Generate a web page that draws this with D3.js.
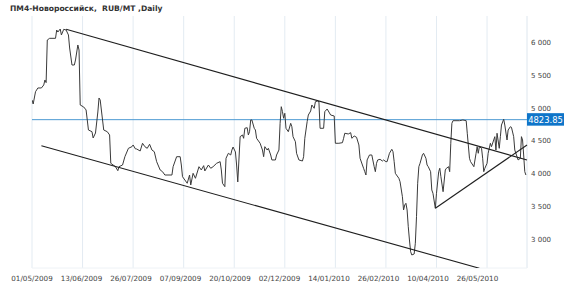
<!DOCTYPE html>
<html>
<head>
<meta charset="utf-8">
<script src="https://cdn.jsdelivr.net/npm/d3@7/dist/d3.min.js"></script>
<style>
  html, body { margin: 0; padding: 0; background: #fff; }
  svg { display: block; }
  text { font-family: "DejaVu Sans", Verdana, sans-serif; }
</style>
</head>
<body>
<svg id="chart" width="570" height="287"></svg>
<script>
// ===== data =====
const TITLE = 'ПМ4-Новороссийск,  RUB/MT ,Daily';

// axis ticks
const xTickDates = ['2009-05-01','2009-06-13','2009-07-26','2009-09-07','2009-10-20',
                    '2009-12-02','2010-01-14','2010-02-26','2010-04-10','2010-05-26'];
const xEndDate = '2010-07-01';
const yTicks = [3000, 3500, 4000, 4500, 5000, 5500, 6000];

// price series
const dates = [
  '2009-05-01','2009-05-02','2009-05-04','2009-05-06','2009-05-09','2009-05-11','2009-05-12','2009-05-13','2009-05-14','2009-05-16',
  '2009-05-21','2009-05-22','2009-05-23','2009-05-25','2009-05-26','2009-05-28','2009-05-30','2009-06-01','2009-06-02','2009-06-04',
  '2009-06-06','2009-06-07','2009-06-09','2009-06-10','2009-06-11','2009-06-14','2009-06-16','2009-06-18','2009-06-21','2009-06-22',
  '2009-06-24','2009-06-26','2009-06-27','2009-06-28','2009-07-01','2009-07-04','2009-07-06','2009-07-07','2009-07-09','2009-07-11',
  '2009-07-13','2009-07-14','2009-07-17','2009-07-19','2009-07-22','2009-07-25','2009-07-26','2009-07-28','2009-07-29','2009-08-01',
  '2009-08-03','2009-08-05','2009-08-07','2009-08-09','2009-08-11','2009-08-13','2009-08-15','2009-08-18','2009-08-20','2009-08-22',
  '2009-08-28','2009-08-29','2009-09-01','2009-09-04','2009-09-05','2009-09-06','2009-09-08','2009-09-10','2009-09-12','2009-09-13',
  '2009-09-15','2009-09-17','2009-09-20','2009-09-22','2009-09-24','2009-09-25','2009-09-28','2009-09-30','2009-10-02','2009-10-05',
  '2009-10-08','2009-10-09','2009-10-10','2009-10-12','2009-10-13','2009-10-15','2009-10-17','2009-10-18','2009-10-19','2009-10-21',
  '2009-10-22','2009-10-23','2009-10-25','2009-10-27','2009-10-28','2009-10-29','2009-10-31','2009-11-01','2009-11-02','2009-11-03',
  '2009-11-04','2009-11-06','2009-11-07','2009-11-08','2009-11-11','2009-11-13','2009-11-14','2009-11-15','2009-11-17','2009-11-18',
  '2009-11-20','2009-11-21','2009-11-24','2009-11-25','2009-11-27','2009-11-28','2009-11-29','2009-11-30','2009-12-01','2009-12-02',
  '2009-12-03','2009-12-05','2009-12-07','2009-12-08','2009-12-09','2009-12-11','2009-12-12','2009-12-14','2009-12-17','2009-12-18',
  '2009-12-19','2009-12-21','2009-12-22','2009-12-24','2009-12-25','2009-12-27','2009-12-28','2009-12-30','2009-12-31','2010-01-01',
  '2010-01-04','2010-01-05','2010-01-07','2010-01-08','2010-01-10','2010-01-13','2010-01-14','2010-01-17','2010-01-20','2010-01-21',
  '2010-01-22','2010-01-25','2010-01-27','2010-01-28','2010-01-30','2010-02-01','2010-02-03','2010-02-04','2010-02-06','2010-02-07',
  '2010-02-08','2010-02-09','2010-02-10','2010-02-12','2010-02-14','2010-02-16','2010-02-17','2010-02-18','2010-02-19','2010-02-21',
  '2010-02-23','2010-02-24','2010-02-26','2010-02-27','2010-03-01','2010-03-03','2010-03-04','2010-03-05','2010-03-06','2010-03-07',
  '2010-03-09','2010-03-10','2010-03-12','2010-03-13','2010-03-14','2010-03-15','2010-03-16','2010-03-17','2010-03-18','2010-03-19',
  '2010-03-20','2010-03-22','2010-03-23','2010-03-24','2010-03-25','2010-03-26','2010-03-27','2010-03-29','2010-03-30','2010-04-01',
  '2010-04-02','2010-04-03','2010-04-05','2010-04-06','2010-04-07','2010-04-09','2010-04-10','2010-04-12','2010-04-13','2010-04-14',
  '2010-04-16','2010-04-18','2010-04-19','2010-04-21','2010-04-22','2010-04-23','2010-04-24','2010-04-25','2010-05-01','2010-05-04',
  '2010-05-07','2010-05-08','2010-05-10','2010-05-11','2010-05-13','2010-05-14','2010-05-16','2010-05-17','2010-05-18','2010-05-19',
  '2010-05-21','2010-05-22','2010-05-23','2010-05-24','2010-05-26','2010-05-27','2010-05-29','2010-05-30','2010-06-01','2010-06-02',
  '2010-06-03','2010-06-04','2010-06-06','2010-06-07','2010-06-08','2010-06-10','2010-06-11','2010-06-13','2010-06-14','2010-06-16',
  '2010-06-17','2010-06-19','2010-06-20','2010-06-22','2010-06-23','2010-06-25','2010-06-26','2010-06-27','2010-06-28','2010-06-29',
  '2010-06-30'
];
const prices = [
  5124,5063,5251,5308,5308,5354,5430,5390,6041,6067,
  6067,6194,6163,6209,6118,6205,6194,6118,5919,5659,
  5659,5736,5965,5888,5048,5017,4972,4666,4640,4544,
  4620,4941,5155,5124,4666,4640,4590,4157,4131,4105,
  4044,4105,4131,4258,4386,4411,4437,4376,4376,4345,
  4463,4411,4386,4448,4360,4334,4182,4055,4029,3978,
  3978,4105,4258,4258,4131,3952,3902,3852,3978,3826,
  4004,3928,4105,4055,4121,4040,4131,4081,4105,4157,
  4182,4055,3852,3800,4234,4310,4284,4360,4406,4330,
  4131,3872,4564,4590,4539,4692,4701,4590,4640,4819,
  4819,4692,4666,4539,4463,4360,4258,4411,4360,4386,
  4284,4208,4208,4284,4360,4768,5022,4946,4845,4921,
  4692,4640,4768,4716,4564,4487,4310,4208,4192,4258,
  4539,4793,4895,4956,5048,4998,5098,5109,5098,4692,
  4692,4946,4987,4956,4895,4880,4463,4463,4472,4539,
  4616,4605,4625,4539,4574,4555,4437,4234,4131,4081,
  4029,3978,4208,4284,4284,4105,4029,4157,4208,4218,
  4192,4208,4182,4182,4310,4371,4334,4182,4004,3978,
  3928,3876,3647,3444,3520,3546,3444,3188,2985,2806,
  2756,2771,2935,3341,3852,4105,4157,4284,4310,4234,
  4131,4105,4029,3749,3699,3470,3699,4029,4081,3952,
  3723,4055,4081,4105,4029,4463,4768,4808,4808,4819,
  4808,4616,4234,4182,4131,4105,4310,4411,4310,4411,
  4386,4234,4029,4081,4157,4310,4463,4411,4513,4564,
  4360,4616,4386,4564,4742,4830,4742,4513,4666,4716,
  4707,4564,4360,4258,4208,4234,4564,4513,4284,4029,
  3978
];

// hand-drawn trend lines: [startDate, startValue, endDate, endValue]
const trendLines = [
  ['2009-05-30', 6205, '2010-07-01', 4208],  // upper channel
  ['2009-05-09', 4426, '2010-05-19', 2553],  // lower channel
  ['2010-04-09', 3470, '2010-07-01', 4437]   // rising support
];
const priceLevel = 4823.85;

// ===== setup =====
const W = 570, H = 287;
const margin = { top: 16, right: 43, bottom: 19, left: 32 };
const width = W - margin.left - margin.right;
const height = H - margin.top - margin.bottom;

const parse = d3.timeParse('%Y-%m-%d');
const fmtDate = d3.timeFormat('%d/%m/%Y');
const ruLocale = d3.formatLocale({ decimal: '.', thousands: ' ', grouping: [3], currency: ['', ''] });
const fmtY = ruLocale.format(',d');

const tickDates = xTickDates.map(parse);
const endDate = parse(xEndDate);

// chart is spaced by trading days, so the tick dates are evenly apart on screen
const step = width / 9.79;
const x = d3.scaleTime()
  .domain([...tickDates, endDate])
  .range([...tickDates.map((d, i) => i * step), width]);

const y = d3.scaleLinear().domain([2557, 6408]).range([height, 0]);

const series = dates.map((d, i) => ({ date: parse(d), value: prices[i] }));

const svg = d3.select('#chart');

// title
svg.append('text')
  .attr('x', 10).attr('y', 11)
  .attr('font-size', 7.6).attr('font-weight', 'bold')
  .attr('fill', '#333')
  .attr('xml:space', 'preserve')
  .style('white-space', 'pre')
  .text(TITLE);

const g = svg.append('g').attr('transform', `translate(${margin.left},${margin.top})`);

g.append('clipPath').attr('id', 'plot-clip')
  .append('rect').attr('width', width + 1).attr('height', height);

// vertical gridlines
g.selectAll('.vgrid').data(tickDates).join('line')
  .attr('class', 'vgrid')
  .attr('x1', d => x(d)).attr('x2', d => x(d))
  .attr('y1', 0).attr('y2', height)
  .attr('stroke', '#e3ebf2').attr('stroke-width', 1);

// plot frame (right + bottom)
g.append('line').attr('x1', width).attr('x2', width).attr('y1', 0).attr('y2', height)
  .attr('stroke', '#dde6ee');
g.append('line').attr('x1', 0).attr('x2', width).attr('y1', height).attr('y2', height)
  .attr('stroke', '#eef2f6');

// x labels (they sit a little tighter than the gridlines in the original)
g.selectAll('.xlab').data(tickDates).join('text')
  .attr('class', 'xlab')
  .attr('x', d => x(d) * 0.979)
  .attr('y', height + 13)
  .attr('text-anchor', 'middle')
  .attr('font-size', 7.2).attr('fill', '#444')
  .text(d => fmtDate(d));

// y labels on the right
g.selectAll('.ylab').data(yTicks).join('text')
  .attr('class', 'ylab')
  .attr('x', width + 4)
  .attr('y', d => y(d) + 2.5)
  .attr('font-size', 7).attr('fill', '#444')
  .text(d => fmtY(d));

const plot = g.append('g').attr('clip-path', 'url(#plot-clip)');

// price level line
plot.append('line')
  .attr('x1', 0).attr('x2', width)
  .attr('y1', y(priceLevel)).attr('y2', y(priceLevel))
  .attr('stroke', '#4c9ad2').attr('stroke-width', 1);

// price series
const line = d3.line().x(d => x(d.date)).y(d => y(d.value));
plot.append('path')
  .datum(series)
  .attr('d', line)
  .attr('fill', 'none')
  .attr('stroke', '#3a3a3a')
  .attr('stroke-width', 1);

// trend lines
plot.selectAll('.trend').data(trendLines).join('line')
  .attr('class', 'trend')
  .attr('x1', d => x(parse(d[0]))).attr('y1', d => y(d[1]))
  .attr('x2', d => x(parse(d[2]))).attr('y2', d => y(d[3]))
  .attr('stroke', '#1e1e1e').attr('stroke-width', 1.1);

// price level tag
const tag = g.append('g').attr('transform', `translate(${width},${y(priceLevel)})`);
tag.append('rect')
  .attr('x', 0).attr('y', -6.5).attr('width', 37).attr('height', 12.5)
  .attr('fill', '#0f75c9');
tag.append('text')
  .attr('x', 18.5).attr('y', 3)
  .attr('text-anchor', 'middle')
  .attr('font-size', 8.4).attr('fill', '#fff')
  .text(priceLevel.toFixed(2));
</script>
</body>
</html>
